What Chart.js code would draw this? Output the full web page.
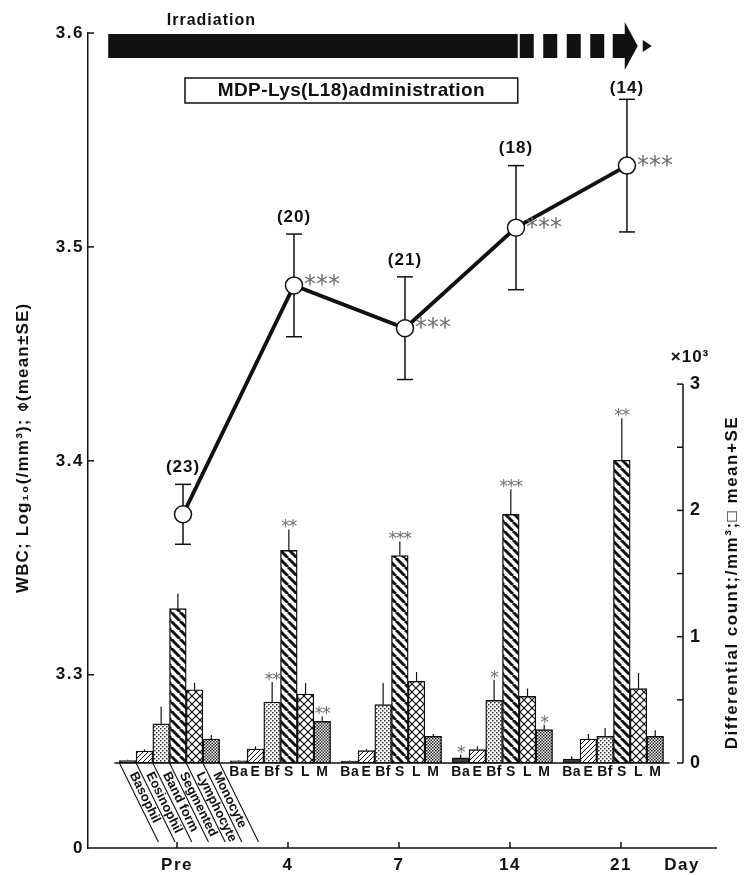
<!DOCTYPE html>
<html>
<head>
<meta charset="utf-8">
<script src="https://cdn.jsdelivr.net/npm/chart.js@4.4.0/dist/chart.umd.min.js"></script>
<style>
  html, body { margin: 0; padding: 0; background: #fff; }
</style>
</head>
<body>
<canvas id="chart" width="745" height="875"></canvas>
<script>
// WBC after irradiation with MDP-Lys(L18)

const days = ['Pre', '4', '7', '14', '21'];

// WBC, log10(/mm3), mean and SE, number of animals
const wbcMean = [3.375, 3.482, 3.462, 3.509, 3.538];
const wbcSE = [0.014, 0.024, 0.024, 0.029, 0.031];
const wbcN = [23, 20, 21, 18, 14];
const wbcSig = ['', '***', '***', '***', '***'];
const wbcTicks = [3.3, 3.4, 3.5, 3.6];

// differential counts (/mm3), mean and SE
const cellNames = ['Basophil', 'Eosinophil', 'Band form', 'Segmented', 'Lymphocyte', 'Monocyte'];
const cellAbbr = ['Ba', 'E', 'Bf', 'S', 'L', 'M'];
const basophil = [20, 18, 15, 40, 32];
const basophilSE = [5, 5, 5, 26, 21];
const basophilSig = ['', '', '', '*', ''];
const eosinophil = [95, 111, 98, 106, 190];
const eosinophilSE = [12, 21, 12, 26, 40];
const eosinophilSig = ['', '', '', '', ''];
const bandForm = [310, 483, 462, 496, 211];
const bandFormSE = [135, 158, 171, 164, 66];
const bandFormSig = ['', '**', '', '*', ''];
const segmented = [1222, 1683, 1643, 1968, 2397];
const segmentedSE = [119, 166, 111, 199, 333];
const segmentedSig = ['', '**', '***', '***', '**'];
const lymphocyte = [580, 546, 647, 528, 589];
const lymphocyteSE = [55, 87, 73, 61, 124];
const lymphocyteSig = ['', '', '', '', ''];
const monocyte = [190, 330, 211, 264, 211];
const monocyteSE = [32, 39, 19, 39, 48];
const monocyteSig = ['', '**', '', '*', ''];
const countTicks = [0, 500, 1000, 1500, 2000, 2500, 3000];

const barVals = [basophil, eosinophil, bandForm, segmented, lymphocyte, monocyte];
const barSE = [basophilSE, eosinophilSE, bandFormSE, segmentedSE, lymphocyteSE, monocyteSE];
const barSig = [basophilSig, eosinophilSig, bandFormSig, segmentedSig, lymphocyteSig, monocyteSig];

const fam = '"Liberation Sans", Arial, sans-serif';
const ink = '#111';
const starInk = '#6e6e6e';

// x range of the day axis, plot width in px, bar width in px
const xMin = -0.802, xMax = 4.559, plotW = 595, barW = 16.7;
const pxPerDay = plotW / (xMax - xMin);

const ctx = document.getElementById('chart').getContext('2d');

// fill patterns for the bars
function makeTile(size, draw) {
    const c = document.createElement('canvas');
    c.width = c.height = size;
    const g = c.getContext('2d');
    g.fillStyle = '#fff';
    g.fillRect(0, 0, size, size);
    g.strokeStyle = ink;
    g.fillStyle = ink;
    draw(g, size);
    return ctx.createPattern(c, 'repeat');
}
function diag(g, s, back) {
    for (let k = -1; k <= 1; k++) {
        g.beginPath();
        if (back) { g.moveTo(k * s, 0); g.lineTo(k * s + s, s); }
        else { g.moveTo(k * s, s); g.lineTo(k * s + s, 0); }
        g.stroke();
    }
}
const fills = [
    '#3a3a3a',
    makeTile(5, (g, s) => { g.lineWidth = 1; diag(g, s, false); }),
    makeTile(4, g => { g.fillStyle = '#333'; g.fillRect(0, 0, 1.5, 1.5); g.fillRect(2, 2, 1.5, 1.5); }),
    makeTile(9, (g, s) => { g.lineWidth = 3; diag(g, s, true); }),
    makeTile(8, (g, s) => { g.lineWidth = 1.2; diag(g, s, false); diag(g, s, true); }),
    makeTile(3, g => { g.fillStyle = '#222'; g.fillRect(0, 0, 1.5, 1.5); g.fillRect(1.5, 1.5, 1.5, 1.5); })
];

// each cell type sits on its own invisible day axis, shifted by one bar width
const datasets = barVals.map((vals, k) => ({
    type: 'bar',
    label: cellNames[k],
    xAxisID: 'xb' + k,
    yAxisID: 'y2',
    data: vals.map((v, i) => ({ x: i, y: v })),
    backgroundColor: fills[k],
    borderColor: ink,
    borderWidth: 1.4,
    borderSkipped: false,
    grouped: false,
    barThickness: barW,
    order: 2
}));
const lineIndex = datasets.length;
datasets.push({
    type: 'line',
    label: 'WBC',
    xAxisID: 'xl',
    yAxisID: 'y',
    data: wbcMean.map((v, i) => ({ x: i, y: v })),
    borderColor: ink,
    borderWidth: 3.8,
    pointRadius: 8.5,
    pointBackgroundColor: '#fff',
    pointBorderColor: ink,
    pointBorderWidth: 1.5,
    tension: 0,
    clip: false,
    order: 1
});

function txt(c, s, x, y, o) {
    c.save();
    c.font = o.font;
    c.fillStyle = o.color || ink;
    c.textAlign = o.align || 'center';
    c.textBaseline = o.base || 'middle';
    c.letterSpacing = o.ls || '0px';
    c.translate(x, y);
    if (o.rot) c.rotate(o.rot);
    c.fillText(s, 0, 0);
    c.restore();
}
function seg(c, x1, y1, x2, y2) {
    c.beginPath(); c.moveTo(x1, y1); c.lineTo(x2, y2); c.stroke();
}
const dayTicks = s => { s.ticks = days.map((d, i) => ({ value: i })); };
// invisible helper axis: the day axis moved by shiftPx pixels
function ghostAxis(shiftPx) {
    const sh = shiftPx / pxPerDay;
    return {
        type: 'linear', position: 'bottom', min: xMin - sh, max: xMax - sh, bounds: 'data', offset: false,
        afterBuildTicks: dayTicks,
        ticks: { display: false },
        grid: { display: false, drawTicks: false },
        border: { display: false },
        afterFit: s => { s.height = 0; }
    };
}

const decor = {
    id: 'decor',
    beforeDraw(chart) {
        chart.ctx.letterSpacing = '1.5px';
    },
    beforeDatasetsDraw(chart) {
        // WBC error bars, under the circles
        const c = chart.ctx, ys = chart.scales.y;
        c.save();
        c.strokeStyle = ink;
        c.lineWidth = 1.5;
        chart.getDatasetMeta(lineIndex).data.forEach((pt, i) => {
            const top = ys.getPixelForValue(wbcMean[i] + wbcSE[i]);
            const bot = ys.getPixelForValue(wbcMean[i] - wbcSE[i]);
            seg(c, pt.x, top, pt.x, bot);
            seg(c, pt.x - 8, top, pt.x + 8, top);
            seg(c, pt.x - 8, bot, pt.x + 8, bot);
        });
        c.restore();
    },
    afterDatasetsDraw(chart) {
        const c = chart.ctx, y2 = chart.scales.y2, ys = chart.scales.y;
        const base = y2.getPixelForValue(0);
        c.save();
        c.strokeStyle = ink;
        // bar error lines and stars
        barVals.forEach((vals, k) => {
            chart.getDatasetMeta(k).data.forEach((bar, i) => {
                const top = y2.getPixelForValue(vals[i] + barSE[k][i]);
                c.lineWidth = 1.2;
                seg(c, bar.x, bar.y, bar.x, top);
                if (barSig[k][i]) {
                    txt(c, barSig[k][i], bar.x, top + 3, { font: '17px "DejaVu Sans", sans-serif', color: starInk, base: 'alphabetic', ls: '-1px' });
                }
            });
        });
        // group baselines
        const first = chart.getDatasetMeta(0).data, last = chart.getDatasetMeta(5).data;
        c.lineWidth = 1.5;
        first.forEach((b, i) => {
            seg(c, b.x - b.width / 2 - 5, base, last[i].x + last[i].width / 2 + 6, base);
        });
        // WBC n and stars; the last n label is squeezed under the arrow
        const nFloor = ys.getPixelForValue(3.6) + 55;
        chart.getDatasetMeta(lineIndex).data.forEach((pt, i) => {
            const top = ys.getPixelForValue(wbcMean[i] + wbcSE[i]);
            txt(c, '(' + wbcN[i] + ')', pt.x, Math.max(top - 17, nFloor), { font: 'bold 17px ' + fam, ls: '1px' });
            if (wbcSig[i]) {
                txt(c, wbcSig[i], pt.x + 10, pt.y + 7, { font: '24px "DejaVu Sans", sans-serif', color: starInk, align: 'left', base: 'alphabetic' });
            }
        });
        c.restore();
    },
    afterDraw(chart) {
        const c = chart.ctx, xs = chart.scales.x, ys = chart.scales.y, y2 = chart.scales.y2;
        const area = chart.chartArea;
        c.save();
        c.strokeStyle = ink;
        c.fillStyle = ink;
        c.lineWidth = 1.5;
        // x axis line and inward ticks
        seg(c, area.left, area.bottom, area.right + 34, area.bottom);
        days.forEach((d, i) => {
            const px = xs.getPixelForValue(i);
            seg(c, px, area.bottom, px, area.bottom - 6);
        });
        txt(c, 'Day', area.right - 1, area.bottom + 17, { font: 'bold 17px ' + fam, ls: '1.5px' });
        // left axis inward ticks
        wbcTicks.forEach(v => {
            const py = ys.getPixelForValue(v);
            seg(c, area.left, py, area.left + 6, py);
        });
        // right axis segment 0..3000 with inward ticks
        const rx = area.right;
        seg(c, rx, y2.getPixelForValue(countTicks[0]), rx, y2.getPixelForValue(countTicks[countTicks.length - 1]));
        countTicks.forEach(v => {
            const py = y2.getPixelForValue(v);
            seg(c, rx - 6, py, rx, py);
        });
        txt(c, '×10³', rx + 7, y2.getPixelForValue(3000) - 27, { font: 'bold 17px ' + fam, ls: '1px' });

        // axis titles
        txt(c, 'WBC; Log₁₀(/mm³); ⌽(mean±SE)', 23, (ys.getPixelForValue(3.3) + ys.getPixelForValue(3.6)) / 2 + 94,
            { font: 'bold 17px ' + fam, rot: -Math.PI / 2, ls: '1.2px' });
        txt(c, 'Differential count;/mm³;□ mean+SE', 732, (y2.getPixelForValue(0) + y2.getPixelForValue(3000)) / 2 + 9,
            { font: 'bold 17px ' + fam, rot: -Math.PI / 2, ls: '1.5px' });

        // labels under the bars: slanted names under Pre, abbreviations elsewhere
        const metas = barVals.map((v, k) => chart.getDatasetMeta(k).data);
        const base = y2.getPixelForValue(0);
        const ang = Math.atan2(79, 39);
        const ux = Math.cos(ang), uy = Math.sin(ang), len = 88;
        c.lineWidth = 1.1;
        metas.forEach((bars, k) => {
            const b = bars[0];
            seg(c, b.x - b.width / 2, base, b.x - b.width / 2 + ux * len, base + uy * len);
            if (k === metas.length - 1) {
                seg(c, b.x + b.width / 2, base, b.x + b.width / 2 + ux * len, base + uy * len);
            }
            txt(c, cellNames[k], b.x + ux * 11, base + uy * 11, { font: 'bold 13px ' + fam, align: 'left', rot: ang });
            for (let i = 1; i < days.length; i++) {
                txt(c, cellAbbr[k], bars[i].x, base + 9, { font: 'bold 14px ' + fam, ls: '0.5px' });
            }
        });

        // irradiation arrow
        const barTop = ys.getPixelForValue(3.6) + 1, barH = 24, mid = barTop + barH / 2;
        const x0 = xs.getPixelForValue(-0.62), x1 = xs.getPixelForValue(3.07);
        c.fillRect(x0, barTop, x1 - x0, barH);
        for (let j = 0; j < 4; j++) c.fillRect(x1 + 2 + j * 23.5, barTop, 14, barH);
        c.fillRect(x1 + 95, barTop, 13, barH);
        c.beginPath();
        c.moveTo(x1 + 107, mid - 24); c.lineTo(x1 + 120, mid); c.lineTo(x1 + 107, mid + 24);
        c.closePath(); c.fill();
        c.beginPath();
        c.moveTo(x1 + 125, mid - 6); c.lineTo(x1 + 134, mid); c.lineTo(x1 + 125, mid + 6);
        c.closePath(); c.fill();
        txt(c, 'Irradiation', xs.getPixelForValue(0.31), barTop - 13, { font: 'bold 16px ' + fam, ls: '1px' });

        // administration box
        const bx0 = xs.getPixelForValue(0.072), bTop = barTop + barH + 20;
        c.lineWidth = 1.5;
        c.fillStyle = '#fff';
        c.fillRect(bx0, bTop, x1 - bx0, 25);
        c.strokeRect(bx0, bTop, x1 - bx0, 25);
        txt(c, 'MDP-Lys(L18)administration', (bx0 + x1) / 2, bTop + 13, { font: 'bold 19px ' + fam, ls: '0.4px' });
        c.restore();
    }
};

const scales = {
    x: {
        type: 'linear', position: 'bottom', min: xMin, max: xMax, bounds: 'data', offset: false,
        afterBuildTicks: dayTicks,
        ticks: { callback: v => days[v], color: ink, font: { family: fam, size: 17, weight: 'bold' }, padding: 7, autoSkip: false, maxRotation: 0 },
        grid: { display: false, drawTicks: false },
        border: { display: false },
        afterFit: s => { s.height = 27; }
    },
    xl: ghostAxis(6),
    y: {
        position: 'left', min: 3.219, max: 3.6, bounds: 'data',
        afterBuildTicks: s => { s.ticks = [s.min].concat(wbcTicks).map(v => ({ value: v })); },
        ticks: { callback: v => v < wbcTicks[0] ? '0' : v.toFixed(1), color: ink, font: { family: fam, size: 17, weight: 'bold' }, padding: 4, autoSkip: false },
        grid: { display: false, drawTicks: false },
        border: { color: ink, width: 1.5 },
        afterFit: s => { s.width = 88; }
    },
    y2: {
        position: 'right', min: -673, max: 5780, bounds: 'data',
        afterBuildTicks: s => { s.ticks = countTicks.map(v => ({ value: v })); },
        ticks: { callback: v => v % 1000 === 0 ? String(v / 1000) : '', color: ink, font: { family: fam, size: 18, weight: 'bold' }, padding: 7, autoSkip: false },
        grid: { display: false, drawTicks: false },
        border: { display: false },
        afterFit: s => { s.width = 62; }
    }
};
// bar groups sit 7.5 px left of the day ticks
cellAbbr.forEach((a, k) => { scales['xb' + k] = ghostAxis(-7.5 + (k - 2.5) * barW); });

new Chart(ctx, {
    data: { datasets: datasets },
    options: {
        responsive: false,
        animation: false,
        devicePixelRatio: 1,
        layout: { padding: { top: 33, left: 0, right: 0, bottom: 0 } },
        plugins: { legend: { display: false }, tooltip: { enabled: false } },
        scales: scales
    },
    plugins: [decor]
});
</script>
</body>
</html>
